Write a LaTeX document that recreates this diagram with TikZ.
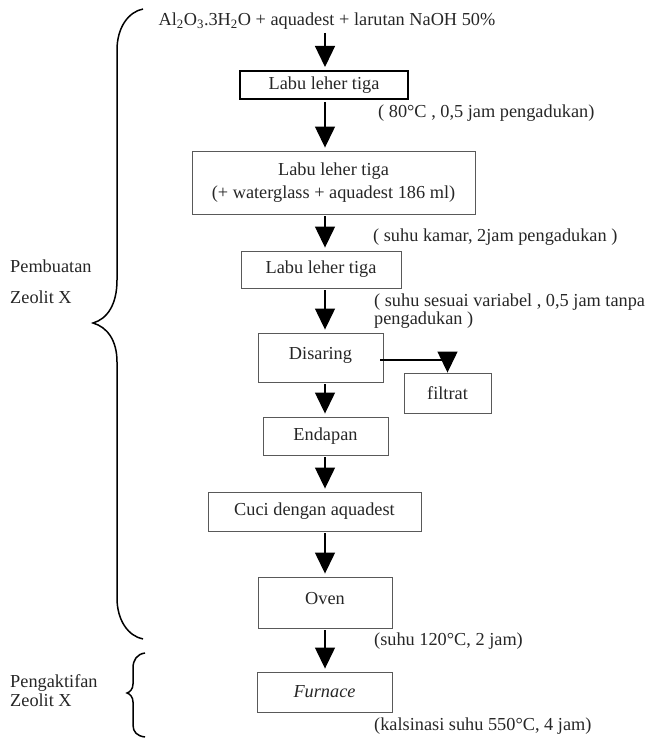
\documentclass[tikz,border=0pt]{standalone}
\usepackage{fontspec}
\setmainfont{Liberation Serif}
\usetikzlibrary{arrows.meta}
\begin{document}
\begin{tikzpicture}[x=1pt,y=-1pt,
  every node/.style={font=\fontsize{18.3}{23}\selectfont, inner sep=0pt, text=black!85},
  box/.style={draw=black!65, line width=0.9pt, rectangle, align=center},
  arr/.style={draw=black, line width=1.3pt, -{Triangle[width=20pt,length=21pt]}, shorten >=3pt},
  note/.style={anchor=base west},
  brace/.style={draw=black, line width=1.5pt}
]
\useasboundingbox (0,0) rectangle (648,738);

% axis of the arrows
\coordinate (ax) at (325,0);

\node[anchor=base] (top) at (327,26) {Al\textsubscript{2}O\textsubscript{3}.3H\textsubscript{2}O + aquadest + larutan NaOH 50\%};
\node[box, draw=black, line width=2pt, minimum width=168pt, minimum height=28pt] (b1) at (324,85) {Labu leher tiga};
\node[box, minimum width=283pt, minimum height=63pt] (b2) at (333.5,182.5) {Labu leher tiga\\(+ waterglass + aquadest 186 ml)};
\node[box, minimum width=160pt, minimum height=37pt] (b3) at (321,269.5) {Labu leher tiga};
\node[box, minimum width=125pt, minimum height=49pt, text depth=9pt] (b4) at (320.5,357.5) {Disaring};
\node[box, minimum width=87pt, minimum height=40pt] (fil) at (447.5,393) {filtrat};
\node[box, minimum width=125pt, minimum height=38pt] (b5) at (325.5,436) {Endapan};
\node[box, minimum width=213pt, minimum height=39pt] (b6) at (314.5,511.5) {Cuci dengan aquadest};
\node[box, minimum width=134pt, minimum height=51pt, text depth=9pt] (b7) at (325,602.5) {Oven};
\node[box, minimum width=135pt, minimum height=40pt] (b8) at (324.5,692) {\textit{Furnace}};

% annotations
\node[note] (n1) at (378,118) {( 80°C , 0,5 jam pengadukan)};
\node[note] (n2) at (373,241) {( suhu kamar, 2jam pengadukan )};
\node[note] (n3a) at (374,306) {( suhu sesuai variabel , 0,5 jam tanpa};
\node[note] (n3b) at (374,324) {pengadukan )};
\node[note] (n4) at (374,645) {(suhu 120°C, 2 jam)};
\node[note] (n5) at (374,730) {(kalsinasi suhu 550°C, 4 jam)};

% side labels
\node[note] (l1) at (10,272) {Pembuatan};
\node[note] (l2) at (10,303) {Zeolit X};
\node[note] (l3) at (10,687) {Pengaktifan};
\node[note] (l4) at (10,706) {Zeolit X};

% arrows
\draw[arr] ([yshift=-7pt]top.base -| ax) -- (b1.north -| ax);
\draw[arr] ([yshift=-2pt]b1.south -| ax) -- (b2.north -| ax);
\draw[arr] ([yshift=-2pt]b2.south -| ax) -- (b3.north -| ax);
\draw[arr] ([yshift=-2pt]b3.south -| ax) -- (b4.north -| ax);
\draw[arr] ([yshift=-2pt]b4.south -| ax) -- (b5.north -| ax);
\draw[arr] ([yshift=-2pt]b5.south -| ax) -- (b6.north -| ax);
\draw[arr] ([yshift=-2pt]b6.south -| ax) -- (b7.north -| ax);
\draw[arr] ([yshift=-2pt]b7.south -| ax) -- (b8.north -| ax);
\coordinate (fx) at ([xshift=-3pt]b4.east |- 0,360);
\draw[arr, shorten >=0pt] (fx) -| (fil.north);

% braces
\draw[brace] (143,9) .. controls (128,12) and (117,28) .. (117,50) -- (117,280)
  .. controls (117,305) and (107,319) .. (93,323)
  .. controls (107,327) and (117,340) .. (117,362) -- (117,598)
  .. controls (117,620) and (128,636) .. (143,639);
\draw[brace] (145,653) .. controls (137,654) and (133,660) .. (133,668) -- (133,684)
  .. controls (133,689) and (130,692) .. (127,693)
  .. controls (130,694) and (133,697) .. (133,702) -- (133,725)
  .. controls (133,732) and (137,736) .. (145,737);
\end{tikzpicture}
\end{document}
